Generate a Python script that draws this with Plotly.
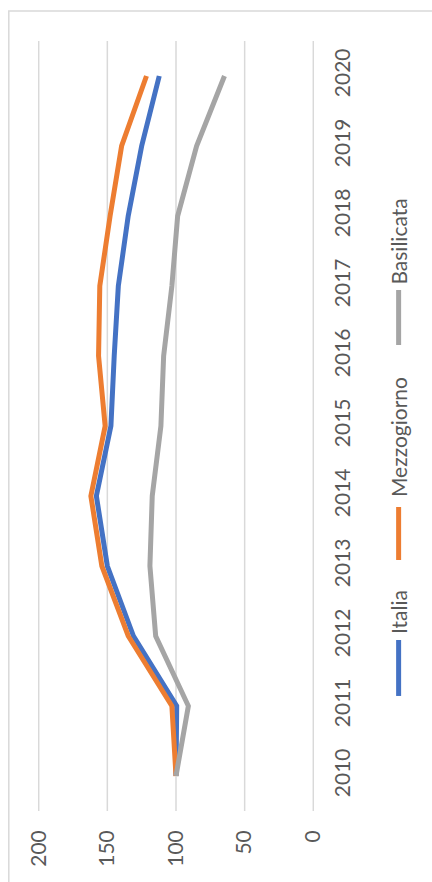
import plotly.graph_objects as go

years = [2010, 2011, 2012, 2013, 2014, 2015, 2016, 2017, 2018, 2019, 2020]
italia = [100, 99.5, 131, 150, 158, 147.4, 145, 142, 134.8, 125, 112.2]
mezzogiorno = [100, 103, 134.8, 154, 162, 151.6, 156.4, 155.5, 148, 139.6, 121.5]
basilicata = [100, 91, 114.8, 119, 117.3, 111, 109, 103, 98.8, 85, 64.7]
series_names = ["Italia", "Mezzogiorno", "Basilicata"]
colors = ["#4472C4", "#ED7D31", "#A5A5A5"]
value_ticks = [0, 50, 100, 150, 200]

FONT = "Lato"
TXT = "#595959"
GRID = "#D9D9D9"

fig = go.Figure()
# value gridlines (drawn as shapes so the 0 and 200 edge lines show)
for v in value_ticks:
    fig.add_shape(type="line", xref="x", yref="paper", x0=v, x1=v, y0=0, y1=1,
                  line=dict(color=GRID, width=1.5), layer="below")

for name, vals, col in zip(series_names, [italia, mezzogiorno, basilicata], colors):
    fig.add_trace(go.Scatter(x=vals, y=years, mode="lines", name=name,
                             line=dict(color=col, width=5), showlegend=False))

fig.update_layout(
    width=432, height=882,
    margin=dict(l=38, r=118, t=41, b=71),
    paper_bgcolor="white", plot_bgcolor="white",
    font=dict(family=FONT, color=TXT, size=21),
    xaxis=dict(range=[200.5, -0.5], tickvals=value_ticks, showgrid=False,
               zeroline=False, showline=False, tickangle=-90, ticks="",
               automargin=False, ticklabelstandoff=14,
               tickfont=dict(size=21, color=TXT)),
    yaxis=dict(range=[2009.5, 2020.5], tickvals=years, side="right",
               showgrid=False, zeroline=False, showline=False, automargin=False,
               tickangle=-90, ticks="", ticklabelstandoff=14,
               tickfont=dict(size=21, color=TXT)),
)

# chart border
fig.add_shape(type="rect", xref="paper", yref="paper",
              x0=-0.1058, y0=-0.2, x1=1.6, y1=1.039,
              line=dict(color=GRID, width=1.5), fillcolor="rgba(0,0,0,0)",
              layer="below")

# rotated legend
leg = [
    ("Italia", 0.2221, 0.1494, 0.2578),
    ("Mezzogiorno", 0.3948, 0.3260, 0.4851),
    ("Basilicata", 0.6766, 0.6052, 0.7390),
]
lx = 1.3066
for (name, y0, y1, ty), col in zip(leg, colors):
    fig.add_shape(type="line", xref="paper", yref="paper",
                  x0=lx, x1=lx, y0=y0, y1=y1,
                  line=dict(color=col, width=5))
    fig.add_annotation(xref="paper", yref="paper", x=lx, y=ty,
                       xanchor="center", yanchor="middle",
                       text=name, textangle=-90, showarrow=False,
                       font=dict(family=FONT, size=21, color=TXT))

fig.write_html("out.html", config={"displayModeBar": False},
               post_script="document.body.style.margin='0';document.body.style.overflow='hidden';")
